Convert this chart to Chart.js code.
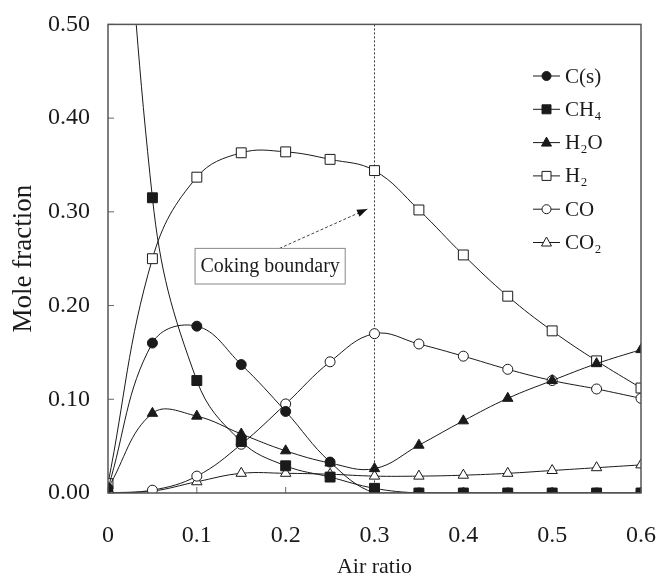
<!DOCTYPE html>
<html lang="en">
<head>
    <meta charset="UTF-8">
    <title>Mole fraction vs air ratio</title>
    <script src="https://cdn.jsdelivr.net/npm/chart.js"></script>
    <style>
        body {
            margin: 0;
            padding: 0;
            background-color: #ffffff;
        }

        .chart-box {
            width: 660px;
            height: 578px;
        }
    </style>
</head>
<body>
    <div class="chart-box">
        <canvas id="moleChart" width="660" height="578"></canvas>
    </div>

    <script>
        // Air ratio (x values)
        const airRatio = [0, 0.05, 0.1, 0.15, 0.2, 0.25, 0.3, 0.35, 0.4, 0.45, 0.5, 0.55, 0.6];

        // Mole fractions
        const carbon = [0.005, 0.160, 0.178, 0.137, 0.087, 0.033, 0.000, 0, 0, 0, 0, 0, 0];
        const methane = [1.0, 0.315, 0.120, 0.055, 0.029, 0.017, 0.005, 0, 0, 0, 0, 0, 0];
        const water = [0.005, 0.085, 0.082, 0.063, 0.045, 0.032, 0.026, 0.051, 0.077, 0.101, 0.120, 0.138, 0.153];
        const hydrogen = [0.010, 0.250, 0.337, 0.363, 0.364, 0.356, 0.344, 0.302, 0.254, 0.210, 0.173, 0.141, 0.112];
        const carbonMonoxide = [0.000, 0.003, 0.018, 0.052, 0.095, 0.140, 0.170, 0.159, 0.146, 0.132, 0.120, 0.111, 0.101];
        const carbonDioxide = [0.000, 0.002, 0.012, 0.021, 0.021, 0.020, 0.018, 0.018, 0.019, 0.021, 0.024, 0.027, 0.030];

        const seriesNames = ['C(s)', 'CH₄', 'H₂O', 'H₂', 'CO', 'CO₂'];

        // Axis ticks
        const xTicks = [0, 0.1, 0.2, 0.3, 0.4, 0.5, 0.6];
        const xTickLabels = ['0', '0.1', '0.2', '0.3', '0.4', '0.5', '0.6'];
        const yTicks = [0, 0.1, 0.2, 0.3, 0.4, 0.5];
        const yTickLabels = ['0.00', '0.10', '0.20', '0.30', '0.40', '0.50'];

        // Coking boundary
        const cokingBoundary = 0.3;
        const cokingLabel = 'Coking boundary';

        const serif = "'Liberation Serif', 'Times New Roman', serif";
        const ink = '#1a1a1a';

        // marker look per series: [pointStyle, filled]
        const markers = [
            ['circle', true],
            ['rect', true],
            ['triangle', true],
            ['rect', false],
            ['circle', false],
            ['triangle', false]
        ];
        const seriesData = [carbon, methane, water, hydrogen, carbonMonoxide, carbonDioxide];

        function pointSize(style) {
            if (style === 'rect') return 7;
            if (style === 'triangle') return 6;
            return 5;
        }

        const datasets = seriesData.map((values, i) => ({
            label: seriesNames[i],
            data: airRatio.map((x, j) => ({ x: x, y: values[j] })),
            borderColor: ink,
            borderWidth: 1,
            tension: 0.4,
            pointStyle: markers[i][0],
            pointRadius: pointSize(markers[i][0]),
            pointBackgroundColor: markers[i][1] ? ink : '#ffffff',
            pointBorderColor: ink,
            pointBorderWidth: 1
        }));

        // frame, inside ticks, coking boundary line + label, legend
        const decorations = {
            id: 'decorations',
            beforeDatasetsDraw(chart) {
                const ctx = chart.ctx;
                const area = chart.chartArea;
                const xs = chart.scales.x;
                const ys = chart.scales.y;
                ctx.save();

                // dotted coking boundary
                const bx = xs.getPixelForValue(cokingBoundary);
                ctx.strokeStyle = '#333';
                ctx.lineWidth = 1;
                ctx.setLineDash([2, 2]);
                ctx.beginPath();
                ctx.moveTo(bx, area.top);
                ctx.lineTo(bx, area.bottom);
                ctx.stroke();
                ctx.setLineDash([]);

                // inside tick marks
                ctx.strokeStyle = '#666';
                ctx.lineWidth = 1;
                ctx.beginPath();
                xTicks.forEach(v => {
                    const px = xs.getPixelForValue(v);
                    ctx.moveTo(px, area.bottom);
                    ctx.lineTo(px, area.bottom - 6);
                });
                yTicks.forEach(v => {
                    const py = ys.getPixelForValue(v);
                    ctx.moveTo(area.left, py);
                    ctx.lineTo(area.left + 6, py);
                });
                ctx.stroke();
                ctx.restore();
            },
            afterDatasetsDraw(chart) {
                const ctx = chart.ctx;
                const area = chart.chartArea;
                const xs = chart.scales.x;
                const ys = chart.scales.y;
                ctx.save();

                // frame
                ctx.strokeStyle = '#555';
                ctx.lineWidth = 1.5;
                ctx.strokeRect(area.left, area.top, area.right - area.left, area.bottom - area.top);

                // arrow from label box to boundary
                const ax0 = xs.getPixelForValue(0.193), ay0 = ys.getPixelForValue(0.261);
                const ax1 = xs.getPixelForValue(0.292), ay1 = ys.getPixelForValue(0.303);
                ctx.strokeStyle = '#444';
                ctx.lineWidth = 1;
                ctx.setLineDash([3, 2]);
                ctx.beginPath();
                ctx.moveTo(ax0, ay0);
                ctx.lineTo(ax1, ay1);
                ctx.stroke();
                ctx.setLineDash([]);
                const ang = Math.atan2(ay1 - ay0, ax1 - ax0);
                ctx.fillStyle = '#111';
                ctx.beginPath();
                ctx.moveTo(ax1, ay1);
                ctx.lineTo(ax1 - 11 * Math.cos(ang - 0.35), ay1 - 11 * Math.sin(ang - 0.35));
                ctx.lineTo(ax1 - 11 * Math.cos(ang + 0.35), ay1 - 11 * Math.sin(ang + 0.35));
                ctx.closePath();
                ctx.fill();

                // label box
                const bl = xs.getPixelForValue(0.098), br = xs.getPixelForValue(0.267);
                const bt = ys.getPixelForValue(0.261), bb = ys.getPixelForValue(0.223);
                ctx.fillStyle = '#ffffff';
                ctx.fillRect(bl, bt, br - bl, bb - bt);
                ctx.strokeStyle = '#888';
                ctx.lineWidth = 1;
                ctx.strokeRect(bl, bt, br - bl, bb - bt);
                ctx.fillStyle = ink;
                ctx.font = '20px ' + serif;
                ctx.textAlign = 'center';
                ctx.textBaseline = 'middle';
                ctx.fillText(cokingLabel, (bl + br) / 2, (bt + bb) / 2 + 1);

                // legend
                const lx = 533, ly = 76, step = 33.3;
                ctx.textAlign = 'left';
                ctx.font = '21px ' + serif;
                seriesNames.forEach((name, i) => {
                    const y = ly + i * step;
                    ctx.strokeStyle = ink;
                    ctx.lineWidth = 1;
                    ctx.beginPath();
                    ctx.moveTo(lx, y);
                    ctx.lineTo(lx + 27, y);
                    ctx.stroke();
                    const cx = lx + 13.5;
                    const style = markers[i][0];
                    ctx.fillStyle = markers[i][1] ? ink : '#ffffff';
                    ctx.beginPath();
                    if (style === 'circle') {
                        ctx.arc(cx, y, 4.5, 0, Math.PI * 2);
                    } else if (style === 'rect') {
                        ctx.rect(cx - 4.5, y - 4.5, 9, 9);
                    } else {
                        ctx.moveTo(cx, y - 5.5);
                        ctx.lineTo(cx + 5, y + 3.5);
                        ctx.lineTo(cx - 5, y + 3.5);
                        ctx.closePath();
                    }
                    ctx.fill();
                    ctx.stroke();
                    ctx.fillStyle = ink;
                    ctx.fillText(name, lx + 32, y + 1);
                });
                ctx.restore();
            }
        };

        new Chart(document.getElementById('moleChart'), {
            type: 'line',
            data: { datasets: datasets },
            options: {
                responsive: false,
                animation: false,
                layout: { padding: { top: 15, right: 1, left: 0, bottom: 0 } },
                plugins: {
                    legend: { display: false },
                    tooltip: { enabled: false }
                },
                scales: {
                    x: {
                        type: 'linear',
                        min: 0,
                        max: 0.6,
                        afterFit(scale) {
                            scale.height = 85;
                            scale.paddingRight = 19;
                            scale.paddingLeft = 0;
                        },
                        afterBuildTicks(scale) { scale.ticks = xTicks.map(v => ({ value: v })); },
                        grid: { display: false },
                        border: { display: false },
                        ticks: {
                            padding: 20,
                            color: ink,
                            font: { family: serif, size: 24 },
                            callback: (v) => xTickLabels[xTicks.indexOf(v)]
                        },
                        title: {
                            display: true,
                            text: 'Air ratio',
                            color: ink,
                            font: { family: serif, size: 22, lineHeight: 1 },
                            padding: { top: 0, bottom: 0 }
                        }
                    },
                    y: {
                        min: 0,
                        max: 0.5,
                        afterFit(scale) { scale.width = 108; },
                        afterBuildTicks(scale) { scale.ticks = yTicks.map(v => ({ value: v })); },
                        grid: { display: false },
                        border: { display: false },
                        ticks: {
                            padding: 10,
                            color: ink,
                            font: { family: serif, size: 24 },
                            callback: (v) => yTickLabels[yTicks.indexOf(v)]
                        },
                        title: {
                            display: true,
                            text: 'Mole fraction',
                            color: ink,
                            font: { family: serif, size: 27, lineHeight: 1 },
                            padding: { top: 10, bottom: 0 }
                        }
                    }
                }
            },
            plugins: [decorations]
        });
    </script>
</body>
</html>
